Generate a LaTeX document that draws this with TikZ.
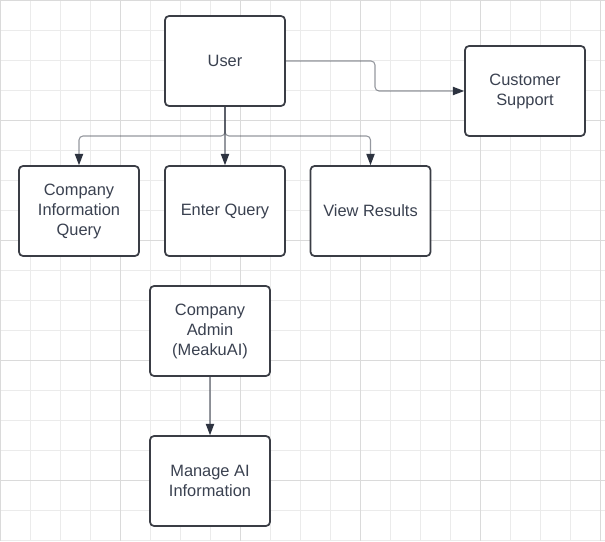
\documentclass[tikz,border=0pt]{standalone}
\usepackage{fontspec}
\setmainfont{Liberation Sans}
\usetikzlibrary{arrows.meta}
\definecolor{gridminor}{HTML}{EBEBEB}
\definecolor{gridmajor}{HTML}{DADADA}
\definecolor{boxline}{HTML}{3A3D45}
\definecolor{txt}{HTML}{3A4150}
\definecolor{conn}{HTML}{2D3340}
\tikzset{
  box/.style={draw=boxline, line width=1.3pt, rounded corners=3pt, fill=white,
    minimum width=90pt, minimum height=67.5pt, inner sep=0pt, align=center,
    text=txt, font=\fontsize{12.3pt}{15pt}\selectfont},
  conline/.style={draw=conn, draw opacity=0.5, line width=0.8pt, rounded corners=3pt,
    -{Triangle[length=8.5pt,width=6.5pt,fill=conn,color=conn,line width=0pt]}},
}
\begin{document}
\begin{tikzpicture}[x=0.75pt,y=-0.75pt]
\useasboundingbox (0,0) rectangle (605,541);
\fill[white] (0,0) rectangle (605,541);
% grid
\foreach \i in {0,30,...,600} {
  \draw[gridminor, line width=0.75pt] (\i+0.5,0) -- (\i+0.5,541);
}
\foreach \j in {0,30,...,540} {
  \draw[gridminor, line width=0.75pt] (0,\j+0.5) -- (605,\j+0.5);
}
\foreach \i in {0,120,...,600} {
  \draw[gridmajor, line width=0.75pt] (\i+0.5,0) -- (\i+0.5,541);
}
\foreach \j in {0,120,...,480} {
  \draw[gridmajor, line width=0.75pt] (0,\j+0.5) -- (605,\j+0.5);
}
% nodes
\node[box] (user) at (225,61) {User};
\node[box] (support) at (525,91) {Customer\\Support};
\node[box] (ciq) at (79,211) {Company\\Information\\Query};
\node[box] (enter) at (225,211) {Enter Query};
\node[box] (view) at (370.5,211) {View Results};
\node[box] (admin) at (210,331) {Company\\Admin\\(MeakuAI)};
\node[box] (manage) at (210,481) {Manage AI\\Information};
% connectors
\draw[conline] (user.east) -- (375,61) -- (375,91) -- (support.west);
\draw[conline] (user.south) -- (225,136) -- (ciq.north |- 0,136) -- (ciq.north);
\draw[conline] (user.south) -- (225,136) -- (view.north |- 0,136) -- (view.north);
\draw[conline] (user.south) -- (enter.north);
\draw[conline] (admin.south) -- (manage.north);
\end{tikzpicture}
\end{document}
